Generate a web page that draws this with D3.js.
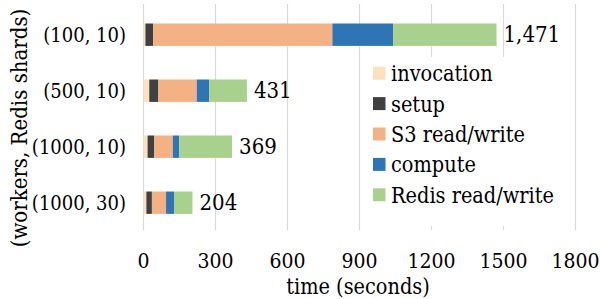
<!DOCTYPE html>
<html>
<head>
<meta charset="utf-8">
<script src="https://cdn.jsdelivr.net/npm/d3@7"></script>
<style>
  body { margin: 0; background: #fff; }
</style>
</head>
<body>
<div id="chart"></div>
<script>
// stacked horizontal bars: time breakdown per (workers, Redis shards) config
var width = 600,
  height = 299;

var categories = ["(100, 10)", "(500, 10)", "(1000, 10)", "(1000, 30)"];
var phases = ["invocation", "setup", "S3 read/write", "compute", "Redis read/write"];
var colors = ["#fde0bc", "#404040", "#f4b183", "#2e75b6", "#a9d18e"];

// seconds per phase, one value per category
var invocation = [8, 24, 17, 12];
var setup = [32, 38, 28, 23];
var s3rw = [747, 160, 77, 59];
var compute = [253, 52, 27, 33];
var redisrw = [431, 157, 220, 77];
var totals = [1471, 431, 369, 204];

var xTicks = [0, 300, 600, 900, 1200, 1500, 1800];

// only the DejaVu serif is picked up here
var serif = "DejaVu Serif Condensed, DejaVu Serif, serif";

var rows = categories.map(function (c, i) {
  return {
    cat: c,
    "invocation": invocation[i],
    "setup": setup[i],
    "S3 read/write": s3rw[i],
    "compute": compute[i],
    "Redis read/write": redisrw[i],
    total: totals[i]
  };
});

var svg = d3.select("#chart").append("svg")
  .attr("width", width)
  .attr("height", height)
  .attr("font-family", serif)
  .attr("font-stretch", "condensed");

var x = d3.scaleLinear().domain([0, 1800]).range([143.5, 575.5]);
var y = d3.scaleBand().domain(categories).range([6.7, 230.7])
  .paddingInner(0.6).paddingOuter(0.3);
var color = d3.scaleOrdinal().domain(phases).range(colors);

// vertical gridlines
svg.append("g")
  .selectAll("line")
  .data(xTicks)
  .enter().append("line")
  .attr("x1", function (d) { return x(d); })
  .attr("x2", function (d) { return x(d); })
  .attr("y1", 4)
  .attr("y2", 230)
  .attr("stroke", "#d9d9d9")
  .attr("stroke-width", 1.2);

// x tick labels
svg.append("g")
  .selectAll("text")
  .data(xTicks)
  .enter().append("text")
  .attr("x", function (d) { return x(d); })
  .attr("y", 268)
  .attr("text-anchor", "middle")
  .attr("font-size", 21)
  .text(function (d) { return d; });

svg.append("text")
  .attr("x", 358)
  .attr("y", 294)
  .attr("text-anchor", "middle")
  .attr("font-size", 21.5)
  .text("time (seconds)");

// legend background sits over the gridlines
svg.append("rect")
  .attr("x", 364).attr("y", 57)
  .attr("width", 208).attr("height", 169)
  .attr("fill", "#fff");

var series = d3.stack().keys(phases)(rows);

svg.append("g")
  .selectAll("g")
  .data(series)
  .enter().append("g")
  .attr("fill", function (d) { return color(d.key); })
  .selectAll("rect")
  .data(function (d) { return d; })
  .enter().append("rect")
  .attr("x", function (d) { return x(d[0]); })
  .attr("width", function (d) { return x(d[1]) - x(d[0]); })
  .attr("y", function (d) { return y(d.data.cat); })
  .attr("height", y.bandwidth());

// totals at the end of each bar
svg.append("g")
  .selectAll("text")
  .data(rows)
  .enter().append("text")
  .attr("x", function (d) { return x(d.total) + 7; })
  .attr("y", function (d) { return y(d.cat) + y.bandwidth() / 2; })
  .attr("dy", "0.35em")
  .attr("font-size", 22)
  .text(function (d) { return d3.format(",")(d.total); });

// category labels
svg.append("g")
  .selectAll("text")
  .data(categories)
  .enter().append("text")
  .attr("x", 126)
  .attr("y", function (d) { return y(d) + y.bandwidth() / 2; })
  .attr("dy", "0.35em")
  .attr("text-anchor", "end")
  .attr("font-size", 20)
  .text(function (d) { return d; });

svg.append("text")
  .attr("transform", "translate(27,128) rotate(-90)")
  .attr("text-anchor", "middle")
  .attr("font-size", 22)
  .text("(workers, Redis shards)");

// legend
var legend = svg.append("g")
  .selectAll("g")
  .data(phases)
  .enter().append("g")
  .attr("transform", function (d, i) { return "translate(373," + (66.7 + i * 30.4) + ")"; });

legend.append("rect")
  .attr("width", 12.5).attr("height", 13)
  .attr("fill", function (d) { return color(d); });

legend.append("text")
  .attr("x", 18)
  .attr("y", 7)
  .attr("dy", "0.35em")
  .attr("font-size", 21.5)
  .text(function (d) { return d; });
</script>
</body>
</html>
